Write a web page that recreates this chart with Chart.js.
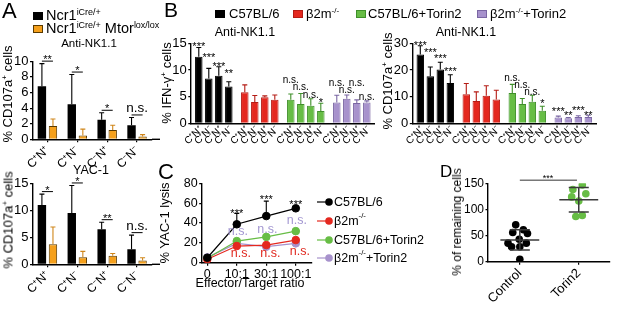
<!DOCTYPE html>
<html>
<head>
<meta charset="utf-8">
<script src="https://cdn.jsdelivr.net/npm/chart.js@4.4.1/dist/chart.umd.min.js"></script>
<style>
html,body{margin:0;padding:0;background:#fff}
body{position:relative;width:617px;height:309px;overflow:hidden;font-family:"Liberation Sans",Arial,Helvetica,sans-serif;color:#000}
canvas{position:absolute;left:0;top:0}
.t{position:absolute;white-space:nowrap;line-height:1}
.c{transform:translateX(-50%)}
.r{position:absolute;white-space:nowrap;line-height:1;transform:translate(-50%,-50%) rotate(-90deg)}
.sq{position:absolute;width:10px;height:8px;box-sizing:border-box}
.s{font-size:0.62em;position:relative;top:-0.6em}
.lg{position:absolute;height:14px;display:flex;align-items:center;white-space:nowrap;font-size:12.5px;line-height:1}
.lg svg{margin-right:1px}
</style>
</head>
<body>
<canvas id="a1" width="617" height="309"></canvas>
<canvas id="a2" width="617" height="309"></canvas>
<canvas id="b1" width="617" height="309"></canvas>
<canvas id="b2" width="617" height="309"></canvas>
<canvas id="c1" width="617" height="309"></canvas>
<canvas id="d1" width="617" height="309"></canvas>

<!-- panel letters -->
<div class="t" style="left:2px;top:0px;font-size:22px">A</div>
<div class="t" style="left:164px;top:-1px;font-size:21px">B</div>
<div class="t" style="left:158px;top:161px;font-size:22px">C</div>
<div class="t" style="left:440px;top:163px;font-size:17px">D</div>

<!-- panel A legend / titles -->
<div class="sq" style="left:33px;top:12px;background:#000"></div>
<div class="t" style="left:46px;top:8px;font-size:14.5px">Ncr1<span class="s">iCre/+</span></div>
<div class="sq" style="left:33px;top:25px;background:#f5a01c;border:1px solid #5a3a00"></div>
<div class="t" style="left:46px;top:21px;font-size:14.5px">Ncr1<span class="s">iCre/+</span> Mtor<span class="s">lox/lox</span></div>
<div class="t c" style="left:89px;top:38px;font-size:11.5px">Anti-NK1.1</div>
<div class="t c" style="left:91px;top:164px;font-size:12.5px">YAC-1</div>
<div class="r" style="left:7.5px;top:94px;font-size:13px">% CD107a<span class="s">+</span> cells</div>
<div class="r" style="left:7.5px;top:220px;font-size:13px">% CD107a<span class="s">+</span> cells</div>

<!-- panel B legend / titles -->
<div class="sq" style="left:215px;top:10px;background:#000"></div>
<div class="t" style="left:229px;top:7px;font-size:13px">C57BL/6</div>
<div class="sq" style="left:293px;top:10px;background:#e4281f;border:1px solid #b51c15"></div>
<div class="t" style="left:306px;top:7px;font-size:13px">β2m<span class="s">-/-</span></div>
<div class="sq" style="left:356px;top:10px;background:#67bd45;border:1px solid #3f8f2a"></div>
<div class="t" style="left:368px;top:7px;font-size:13px">C57BL/6+Torin2</div>
<div class="sq" style="left:477px;top:10px;background:#a792cc;border:1px solid #7a66a3"></div>
<div class="t" style="left:490px;top:7px;font-size:13px">β2m<span class="s">-/-</span>+Torin2</div>
<div class="t c" style="left:245px;top:26px;font-size:12.5px">Anti-NK1.1</div>
<div class="t c" style="left:466px;top:26px;font-size:12.5px">Anti-NK1.1</div>
<div class="r" style="left:167px;top:83px;font-size:13px">% IFN-γ<span class="s">+</span> cells</div>
<div class="r" style="left:388px;top:81px;font-size:13px">% CD107a<span class="s">+</span> cells</div>

<!-- panel C titles / legend -->
<div class="r" style="left:164px;top:223px;font-size:13px">% YAC-1 lysis</div>
<div class="t c" style="left:250px;top:277px;font-size:12.5px">Effector/Target ratio</div>
<div class="lg" style="left:317px;top:195px"><svg width="16" height="10"><line x1="0" y1="5" x2="12" y2="5" stroke="#000" stroke-width="1.2"/><circle cx="12" cy="5" r="3.8" fill="#000"/></svg>C57BL/6</div>
<div class="lg" style="left:317px;top:214px"><svg width="16" height="10"><line x1="0" y1="5" x2="12" y2="5" stroke="#e4281f" stroke-width="1.2"/><circle cx="12" cy="5" r="3.8" fill="#e4281f"/></svg>β2m<span class="s">-/-</span></div>
<div class="lg" style="left:317px;top:233px"><svg width="16" height="10"><line x1="0" y1="5" x2="12" y2="5" stroke="#67bd45" stroke-width="1.2"/><circle cx="12" cy="5" r="3.8" fill="#67bd45"/></svg>C57BL/6+Torin2</div>
<div class="lg" style="left:317px;top:251px"><svg width="16" height="10"><line x1="0" y1="5" x2="12" y2="5" stroke="#a792cc" stroke-width="1.2"/><circle cx="12" cy="5" r="3.8" fill="#a792cc"/></svg>β2m<span class="s">-/-</span>+Torin2</div>

<!-- panel D title -->
<div class="r" style="left:457px;top:222px;font-size:12px">% of remaining cells</div>

<script>
const FONT = '"Liberation Sans", Arial, Helvetica, sans-serif';
Chart.defaults.font.family = FONT;
Chart.defaults.color = '#000';

// ------------------------- DATA -------------------------
const cnLabels = ['C⁺N⁺', 'C⁺N⁻', 'C⁻N⁺', 'C⁻N⁻'];

// Panel A: Ncr1iCre/+ (ctrl) vs Ncr1iCre/+ Mtorlox/lox (mtor)
const aNkCtrl    = [6.8, 4.5, 2.5, 1.8];
const aNkCtrlSd  = [2.9, 3.8, 0.9, 1.0];
const aNkMtor    = [1.7, 0.5, 1.2, 0.35];
const aNkMtorSd  = [0.9, 0.8, 0.6, 0.25];
const aNkSig     = ['**', '*', '*', 'n.s.'];
const aYacCtrl   = [11.0, 9.5, 6.5, 2.8];
const aYacCtrlSd = [2.0, 5.1, 1.3, 2.6];
const aYacMtor   = [3.7, 1.3, 1.6, 0.7];
const aYacMtorSd = [3.2, 1.1, 0.4, 0.5];
const aYacSig    = ['*', '*', '**', 'n.s.'];

// Panel B
const bGroups = ['C57BL/6', 'β2m⁻/⁻', 'C57BL/6+Torin2', 'β2m⁻/⁻+Torin2'];
const ifnC57    = [12.5, 8.4, 8.9, 6.9];
const ifnC57Sd  = [1.7, 1.9, 1.7, 0.9];
const ifnB2m    = [5.8, 4.0, 4.9, 4.4];
const ifnB2mSd  = [1.4, 1.2, 0.25, 0.9];
const ifnC57T   = [4.4, 3.6, 3.3, 2.3];
const ifnC57TSd = [1.1, 2.0, 1.3, 1.45];
const ifnB2mT   = [3.9, 4.6, 3.8, 3.9];
const ifnB2mTSd = [1.35, 0.7, 0.6, 0.3];
const ifnSig    = [['***','***','***','**'], ['','','',''], ['n.s.','n.s.','n.s.','*'], ['n.s.','n.s.','n.s.','n.s.']];
const ifnSigAt  = [[15.05, 13.0, 11.3, 10.0], [0,0,0,0], [8.1, 6.8, 5.3, 4.55], [7.55, 6.25, 7.55, 4.9]];

const cdC57    = [25.8, 17.6, 20.2, 15.1];
const cdC57Sd  = [3.3, 3.5, 2.7, 3.1];
const cdB2m    = [10.9, 8.4, 10.3, 8.9];
const cdB2mSd  = [4.0, 3.4, 3.8, 3.5];
const cdC57T   = [11.4, 7.2, 8.1, 4.7];
const cdC57TSd = [3.2, 2.1, 2.4, 1.7];
const cdB2mT   = [2.2, 1.9, 2.35, 2.35];
const cdB2mTSd = [0.5, 0.3, 0.5, 0.65];
const cdSig    = [['***','***','***','***'], ['','','',''], ['n.s.','n.s.','n.s.','*'], ['***','**','***','**']];
const cdSigAt  = [[30.4, 27.8, 25.5, 20.7], [0,0,0,0], [16.9, 14.3, 11.7, 8.7], [5.7, 4.2, 6.1, 4.2]];

// Panel C
const cRatios = ['0', '10:1', '30:1', '100:1'];
const cC57   = [5.0, 38.7, 47.0, 54.8];
const cC57Sd = [0, 11.0, 15.0, 1.2];
const cB2m   = [3.4, 16.8, 17.8, 22.8];
const cC57T  = [4.5, 21.8, 26.0, 31.8];
const cB2mT  = [5.4, 19.5, 16.1, 19.5];
const cStars    = ['', '***', '***', '***'];
const cStarsAt  = [0, 53.1, 66.5, 61.4];
const cPurpleNs   = ['', 'n.s.', 'n.s.', 'n.s.'];
const cPurpleNsAt = [0, 31.2, 33.6, 42.3];
const cRedNs   = ['', 'n.s.', 'n.s.', 'n.s.'];
const cRedNsAt = [0, 8.8, 8.8, 11.1];

// Panel D
const dGroups  = ['Control', 'Torin2'];
const dControl = [70.5, 56, 61, 54, 43, 35.5, 35.5, 28.5, 28.5, 4.5];
const dTorin2  = [146.7, 138, 130, 124, 116, 86.6, 88.6];
const dControlJitter = [-0.07, -0.12, 0.06, 0.13, -0.01, -0.2, 0.11, -0.14, 0, 0];
const dTorin2Jitter  = [0.06, -0.1, 0.12, -0.12, 0, -0.05, 0.06];
const dSig = '***';

// ------------------------- STYLE -------------------------
const COL = {black:'#000', red:'#e4281f', green:'#67bd45', purple:'#a792cc', orange:'#f5a01c'};
const groupFill = [COL.black, COL.red, COL.green, COL.purple];
const groupEdge = ['#000', '#b51c15', '#3f8f2a', '#7a66a3'];

const YW = 30, XH = 40;   // fixed axis box sizes
function pad(L, T, R, B) { return {left: L - YW, top: T, right: 617 - R, bottom: 309 - B - XH}; }

function yLin(min, max, step, fs) {
  return {
    min, max,
    ticks: {stepSize: step, autoSkip: false, color: '#000', font: {family: FONT, size: fs}, padding: 1.5},
    grid: {display: true, drawOnChartArea: false, drawTicks: true, tickLength: 2.5, color: '#000', lineWidth: 1.2},
    border: {display: true, color: '#000', width: 1.4},
    afterFit(s) { s.width = YW; s.paddingTop = 0; s.paddingBottom = 0; }
  };
}
function xCat(fs, marks) {
  return {
    offset: true,
    grid: {display: true, drawOnChartArea: false, drawTicks: marks, tickLength: 3, offset: false, color: '#000', lineWidth: 1.2},
    border: {display: true, color: '#000', width: 1.4},
    ticks: {display: true, font: {size: fs, family: FONT}, color: '#000', minRotation: 45, maxRotation: 45, autoSkip: false, padding: 1},
    afterFit(s) { s.height = XH; s.paddingLeft = 0; s.paddingRight = 0; }
  };
}
function xLin(min, max, labels, fs, rot) {
  return {
    type: 'linear', min, max,
    afterBuildTicks(s) { s.ticks = labels.map((_, i) => ({value: i})); },
    ticks: {callback: v => labels[v], font: {size: fs, family: FONT}, color: '#000', minRotation: rot, maxRotation: rot, autoSkip: false, padding: 1},
    grid: {display: true, drawOnChartArea: false, drawTicks: true, tickLength: 3, color: '#000', lineWidth: 1.2},
    border: {display: true, color: '#000', width: 1.4},
    afterFit(s) { s.height = XH; s.paddingLeft = 0; s.paddingRight = 0; }
  };
}

function drawLabel(ctx, txt, x, yc, fs, color) {
  if (!txt) return;
  ctx.save();
  ctx.font = fs + 'px ' + FONT;
  ctx.fillStyle = color || '#000';
  ctx.textAlign = 'center';
  ctx.textBaseline = 'alphabetic';
  const star = /^\*+$/.test(txt);
  ctx.fillText(txt, x, yc + (star ? 0.6 : 0.26) * fs);
  ctx.restore();
}
function hline(ctx, x0, x1, y, color, w) {
  ctx.save(); ctx.strokeStyle = color || '#000'; ctx.lineWidth = w || 1;
  ctx.beginPath(); ctx.moveTo(x0, y); ctx.lineTo(x1, y); ctx.stroke(); ctx.restore();
}

function drawErr(chart) {
  const ctx = chart.ctx, ys = chart.scales.y;
  chart.data.datasets.forEach((ds, di) => {
    if (!ds.sd) return;
    const meta = chart.getDatasetMeta(di);
    meta.data.forEach((el, i) => {
      const s = ds.sd[i]; if (!s) return;
      const raw = ds.data[i];
      const v = (typeof raw === 'object') ? raw.y : raw;
      const top = ys.getPixelForValue(v + s);
      const c = Array.isArray(ds.errColor) ? ds.errColor[i] : (ds.errColor || '#000');
      const cap = ds.errCap || 2.5;
      ctx.save(); ctx.strokeStyle = c; ctx.lineWidth = 1.1;
      ctx.beginPath();
      ctx.moveTo(el.x, el.y); ctx.lineTo(el.x, top);
      ctx.moveTo(el.x - cap, top); ctx.lineTo(el.x + cap, top);
      ctx.stroke(); ctx.restore();
    });
  });
}
Chart.register({
  id: 'errbars',
  beforeDatasetsDraw(chart) { if (chart.config.type === 'line') drawErr(chart); },
  afterDatasetsDraw(chart) { if (chart.config.type === 'bar') drawErr(chart); }
});

const base = {responsive: false, animation: false, events: [], plugins: {legend: {display: false}, tooltip: {enabled: false}}};

// ------------------------- PANEL A -------------------------
function makeA(id, ctrl, ctrlSd, mtor, mtorSd, sig, ymax, step, T, B) {
  return new Chart(document.getElementById(id), {
    type: 'bar',
    data: {labels: cnLabels, datasets: [
      {label: 'Ncr1 iCre/+', data: ctrl, sd: ctrlSd, backgroundColor: COL.black, borderWidth: 0, errColor: '#000'},
      {label: 'Ncr1 iCre/+ Mtor lox/lox', data: mtor, sd: mtorSd, backgroundColor: COL.orange, borderColor: '#5a3a00', borderWidth: 1, errColor: '#d0861a'}
    ]},
    options: Object.assign({}, base, {
      layout: {padding: pad(32.5, T, 152, B)},
      datasets: {bar: {categoryPercentage: 0.74, barPercentage: 0.76}},
      scales: {x: xCat(12, true), y: yLin(0, ymax, step, 13)}
    }),
    plugins: [{id: 'sigA', afterDraw(chart) {
      const ctx = chart.ctx, ys = chart.scales.y, ca = chart.chartArea;
      hline(ctx, ca.right, ca.right + 8, ca.bottom, '#000', 1.4);
      const m0 = chart.getDatasetMeta(0), m1 = chart.getDatasetMeta(1);
      sig.forEach((lab, i) => {
        const top = Math.min(ys.getPixelForValue(ctrl[i] + ctrlSd[i]), ys.getPixelForValue(mtor[i] + mtorSd[i]));
        const ly = top - 2.5;
        const x0 = m0.data[i].x, x1 = m1.data[i].x;
        hline(ctx, x0, x1, ly, '#000', 1);
        const star = /^\*+$/.test(lab);
        const fs = star ? 11 : 13.5;
        drawLabel(ctx, lab, (x0 + x1) / 2, star ? ly - 4.5 : ly - 6, fs);
      });
    }}]
  });
}
makeA('a1', aNkCtrl, aNkCtrlSd, aNkMtor, aNkMtorSd, aNkSig, 10, 2, 61.3, 139.3);
makeA('a2', aYacCtrl, aYacCtrlSd, aYacMtor, aYacMtorSd, aYacSig, 15, 5, 183.3, 264.3);

// ------------------------- PANEL B -------------------------
function makeB(id, groupsData, groupsSd, sig, sigAt, L, R, ymax, step) {
  const datasets = cnLabels.map((lab, k) => ({
    label: lab,
    data: groupsData.map(g => g[k]),
    sd: groupsSd.map(g => g[k]),
    backgroundColor: groupFill, borderColor: groupEdge, borderWidth: 1, errColor: groupEdge
  }));
  return new Chart(document.getElementById(id), {
    type: 'bar',
    data: {labels: bGroups, datasets},
    options: Object.assign({}, base, {
      layout: {padding: pad(L, 43.3, R, 123.3)},
      datasets: {bar: {categoryPercentage: 0.87, barPercentage: 0.75}},
      scales: {
        x: {offset: true, grid: {display: false}, border: {display: true, color: '#000', width: 1.4},
            ticks: {display: false}, afterFit(s) { s.height = XH; s.paddingLeft = 0; s.paddingRight = 0; }},
        y: yLin(0, ymax, step, 13)
      }
    }),
    plugins: [{id: 'barLabels', afterDraw(chart) {
      const ctx = chart.ctx, ys = chart.scales.y, ca = chart.chartArea;
      cnLabels.forEach((lab, k) => {
        const meta = chart.getDatasetMeta(k);
        meta.data.forEach((el, g) => {
          ctx.save();
          ctx.font = '10px ' + FONT; ctx.fillStyle = '#000';
          ctx.textAlign = 'right'; ctx.textBaseline = 'middle';
          ctx.translate(el.x + 2, ca.bottom + 5);
          ctx.rotate(-Math.PI / 4);
          ctx.fillText(lab, 0, 0);
          ctx.restore();
          const s = sig[g][k];
          if (s) {
            const star = /^\*+$/.test(s);
            drawLabel(ctx, s, el.x, ys.getPixelForValue(sigAt[g][k]), star ? 11 : 10, '#000');
          }
        });
      });
    }}]
  });
}
makeB('b1', [ifnC57, ifnB2m, ifnC57T, ifnB2mT], [ifnC57Sd, ifnB2mSd, ifnC57TSd, ifnB2mTSd], ifnSig, ifnSigAt, 190.8, 374.8, 15, 5);
makeB('b2', [cdC57, cdB2m, cdC57T, cdB2mT], [cdC57Sd, cdB2mSd, cdC57TSd, cdB2mTSd], cdSig, cdSigAt, 412.3, 596.3, 30, 10);

// ------------------------- PANEL C -------------------------
const toPts = arr => arr.map((v, i) => ({x: i, y: v}));
new Chart(document.getElementById('c1'), {
  type: 'line',
  data: {datasets: [
    {label: 'C57BL/6', data: toPts(cC57), sd: cC57Sd, errColor: '#000', borderColor: COL.black, backgroundColor: COL.black, pointBorderColor: COL.black, pointBackgroundColor: COL.black},
    {label: 'β2m⁻/⁻', data: toPts(cB2m), borderColor: COL.red, backgroundColor: COL.red, pointBorderColor: COL.red, pointBackgroundColor: COL.red},
    {label: 'C57BL/6+Torin2', data: toPts(cC57T), borderColor: COL.green, backgroundColor: COL.green, pointBorderColor: COL.green, pointBackgroundColor: COL.green},
    {label: 'β2m⁻/⁻+Torin2', data: toPts(cB2mT), borderColor: COL.purple, backgroundColor: COL.purple, pointBorderColor: COL.purple, pointBackgroundColor: COL.purple}
  ]},
  options: Object.assign({}, base, {
    layout: {padding: pad(201.7, 183.3, 311.7, 262.7)},
    elements: {point: {radius: 3.8, borderWidth: 1}, line: {borderWidth: 1.2, tension: 0}},
    scales: {x: xLin(-0.19, 3.54, cRatios, 12.5, 0), y: yLin(0, 80, 20, 12.5)}
  }),
  plugins: [{id: 'sigC', afterDraw(chart) {
    const ctx = chart.ctx, ys = chart.scales.y, xs = chart.scales.x;
    cStars.forEach((s, i) => drawLabel(ctx, s, xs.getPixelForValue(i), ys.getPixelForValue(cStarsAt[i]), 11, '#000'));
    cPurpleNs.forEach((s, i) => drawLabel(ctx, s, xs.getPixelForValue(i) + 1, ys.getPixelForValue(cPurpleNsAt[i]), 12.5, '#a397d1'));
    cRedNs.forEach((s, i) => drawLabel(ctx, s, xs.getPixelForValue(i) + 4, ys.getPixelForValue(cRedNsAt[i]), 12.5, '#e0281f'));
  }}]
});

// ------------------------- PANEL D -------------------------
const mean = a => a.reduce((p, c) => p + c, 0) / a.length;
const sdev = a => { const m = mean(a); return Math.sqrt(a.reduce((p, c) => p + (c - m) * (c - m), 0) / (a.length - 1)); };
new Chart(document.getElementById('d1'), {
  type: 'scatter',
  data: {datasets: [
    {label: 'Control', data: dControl.map((v, i) => ({x: 0 + dControlJitter[i], y: v})), pointBackgroundColor: '#000', pointBorderColor: '#000'},
    {label: 'Torin2', data: dTorin2.map((v, i) => ({x: 1 + dTorin2Jitter[i], y: v})), pointBackgroundColor: COL.green, pointBorderColor: COL.green}
  ]},
  options: Object.assign({}, base, {
    layout: {padding: pad(488, 183.3, 610, 261.7)},
    elements: {point: {radius: 3.8, borderWidth: 0}},
    scales: {x: xLin(-0.54, 1.53, dGroups, 13, 45), y: yLin(0, 150, 50, 12)}
  }),
  plugins: [{id: 'statsD', afterDatasetsDraw(chart) {
    const ctx = chart.ctx, ys = chart.scales.y, xs = chart.scales.x;
    [dControl, dTorin2].forEach((arr, gi) => {
      const m = mean(arr), s = sdev(arr);
      const xc = xs.getPixelForValue(gi);
      const wM = xs.getPixelForValue(gi + 0.33) - xc, wS = xs.getPixelForValue(gi + 0.17) - xc;
      ctx.save(); ctx.strokeStyle = '#3a3a3a'; ctx.lineWidth = 1.5;
      ctx.beginPath();
      ctx.moveTo(xc - wM, ys.getPixelForValue(m)); ctx.lineTo(xc + wM, ys.getPixelForValue(m));
      ctx.moveTo(xc - wS, ys.getPixelForValue(m + s)); ctx.lineTo(xc + wS, ys.getPixelForValue(m + s));
      ctx.moveTo(xc - wS, ys.getPixelForValue(m - s)); ctx.lineTo(xc + wS, ys.getPixelForValue(m - s));
      ctx.moveTo(xc, ys.getPixelForValue(m - s)); ctx.lineTo(xc, ys.getPixelForValue(m + s));
      ctx.stroke(); ctx.restore();
    });
  }, afterDraw(chart) {
    const ctx = chart.ctx, xs = chart.scales.x, ys = chart.scales.y;
    const ly = ys.getPixelForValue(156);
    hline(ctx, xs.getPixelForValue(0), xs.getPixelForValue(0.97), ly, '#333', 1);
    drawLabel(ctx, dSig, xs.getPixelForValue(0.48), ly - 5, 9, '#000');
  }}]
});
</script>
</body>
</html>
